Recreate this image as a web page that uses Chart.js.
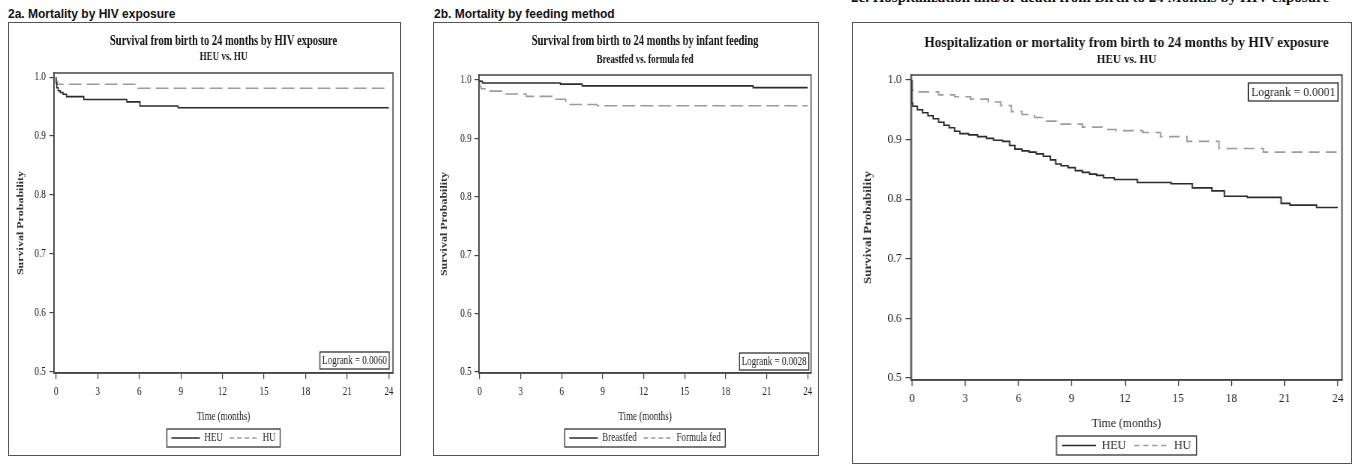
<!doctype html>
<html lang="en">
<head>
<meta charset="utf-8">
<title>Survival from birth to 24 months</title>
<script src="https://cdn.jsdelivr.net/npm/chart.js@4.4.1/dist/chart.umd.min.js"></script>
<style>
  body { margin: 0; background: #fff; width: 1359px; height: 470px; position: relative; overflow: hidden; }
  .Heading { position: absolute; font: bold 12px "Liberation Sans", Arial, sans-serif; color: #111; white-space: nowrap; }
  .HeadingSerif { position: absolute; font: bold 15px "Liberation Serif", "Times New Roman", serif; line-height: 15px; color: #111; white-space: nowrap; }
  .Frame { position: absolute; box-sizing: border-box; border: 1.5px solid #555; }
  canvas { position: absolute; transform-origin: 0 0; }
</style>
</head>
<body>
<div class="Heading" style="left:8px; top:7px">2a. Mortality by HIV exposure</div>
<div class="Heading" style="left:434px; top:7px">2b. Mortality by feeding method</div>
<div class="HeadingSerif" style="left:851px; top:-10px">2c. Hospitalization and/or death from Birth to 24 Months by HIV exposure</div>

<div class="Frame" style="left:8px; top:22px; width:393px; height:434px"></div>
<div class="Frame" style="left:433px; top:22px; width:386px; height:434px"></div>
<div class="Frame" style="left:852px; top:22px; width:500px; height:442px"></div>

<canvas id="chartA" width="521" height="432" style="left:9px; top:23px; transform:scaleX(0.75)"></canvas>
<canvas id="chartB" width="512" height="432" style="left:434px; top:23px; transform:scaleX(0.75)"></canvas>
<canvas id="chartC" width="553" height="440" style="left:853px; top:23px; transform:scaleX(0.9)"></canvas>

<script>
  // axis ticks
  const monthTicks = [0, 3, 6, 9, 12, 15, 18, 21, 24];
  const survTicks = [0.5, 0.6, 0.7, 0.8, 0.9, 1.0];

  // 2a - mortality by HIV exposure (value after each step)
  const hivHeuMonths = [0, 0.05, 0.15, 0.3, 0.5, 0.75, 2.0, 5.1, 6.05, 8.8, 21.0, 24];
  const hivHeuSurv   = [1.0, 0.990, 0.982, 0.977, 0.974, 0.971, 0.967, 0.962, 0.958, 0.951, 0.948, 0.948];
  const hivHuMonths  = [0, 0.1, 5.9, 22.4, 24];
  const hivHuSurv    = [1.0, 0.993, 0.988, 0.981, 0.981];

  // 2b - mortality by feeding method
  const bfMonths = [0, 0.2, 5.9, 7.5, 20.0, 22.8, 24];
  const bfSurv   = [1.0, 0.998, 0.995, 0.993, 0.990, 0.987, 0.987];
  const ffMonths = [0, 0.1, 0.5, 1.9, 3.4, 5.3, 6.3, 8.6, 21.0, 24];
  const ffSurv   = [1.0, 0.989, 0.985, 0.981, 0.976, 0.972, 0.967, 0.958, 0.956, 0.956];

  // 2c - hospitalization or mortality by HIV exposure
  const hospHeuMonths = [0, 0.05, 0.3, 0.6, 0.9, 1.2, 1.5, 1.8, 2.1, 2.4, 2.7, 3.2, 3.7, 4.2, 4.6, 5.1, 5.5, 5.8, 6.2, 6.6,
    7.0, 7.4, 7.8, 8.1, 8.4, 8.8, 9.2, 9.6, 10.0, 10.4, 10.8, 11.4, 12.7, 14.6, 15.8, 16.9, 17.6, 18.9, 20.8, 21.3, 22.8, 23.5, 24];
  const hospHeuSurv = [1.0, 0.961, 0.956, 0.950, 0.945, 0.940, 0.935, 0.929, 0.924, 0.920, 0.914, 0.910, 0.908, 0.905, 0.902, 0.899, 0.897, 0.890, 0.884, 0.881,
    0.879, 0.876, 0.872, 0.866, 0.859, 0.856, 0.853, 0.848, 0.845, 0.842, 0.840, 0.836, 0.833, 0.828, 0.826, 0.819, 0.814, 0.805, 0.803, 0.793, 0.790, 0.786, 0.786];
  const hospHuMonths = [0, 0.1, 1.5, 2.4, 3.3, 4.3, 5.0, 5.6, 6.2, 6.9, 7.5, 8.4, 9.6, 10.8, 11.5, 13.0, 14.0, 15.5, 17.3, 19.8, 22.9, 24];
  const hospHuSurv   = [1.0, 0.983, 0.980, 0.975, 0.972, 0.968, 0.963, 0.957, 0.947, 0.942, 0.937, 0.931, 0.926, 0.921, 0.917, 0.915, 0.912, 0.905, 0.897, 0.885, 0.879, 0.879];

  const SERIF = '"Liberation Serif", "Times New Roman", serif';

  function pts(xs, ys) {
    return xs.map((x, i) => ({ x: x, y: ys[i] }));
  }

  // box round the plot area
  const frameBox = {
    id: 'frameBox',
    afterDraw(chart) {
      const a = chart.chartArea, ctx = chart.ctx;
      ctx.save();
      ctx.strokeStyle = '#444';
      ctx.lineWidth = 1.5;
      ctx.strokeRect(a.left, a.top, a.right - a.left, a.bottom - a.top);
      ctx.restore();
    }
  };

  // box round the legend items
  const legendBox = {
    id: 'legendBox',
    afterDraw(chart) {
      const hb = chart.legend.legendHitBoxes;
      if (!hb || !hb.length) return;
      const left = Math.min(...hb.map(h => h.left)) - 6;
      const right = Math.max(...hb.map(h => h.left + h.width)) + 6;
      const top = hb[0].top - 3, h = hb[0].height + 6;
      const ctx = chart.ctx;
      ctx.save();
      ctx.strokeStyle = '#333';
      ctx.lineWidth = 1.3;
      ctx.strokeRect(left, top, right - left, h);
      ctx.restore();
    }
  };

  function logrankBox(text, size, where, dx, dy) {
    return {
      id: 'logrank',
      afterDraw(chart) {
        const a = chart.chartArea, ctx = chart.ctx;
        ctx.save();
        ctx.font = size + 'px ' + SERIF;
        const w = ctx.measureText(text).width + 6, h = size + 5;
        const x = a.right - dx - w;
        const y = where === 'top' ? a.top + dy : a.bottom - dy - h;
        ctx.fillStyle = '#fff';
        ctx.fillRect(x, y, w, h);
        ctx.strokeStyle = '#333';
        ctx.lineWidth = 1.3;
        ctx.strokeRect(x, y, w, h);
        ctx.fillStyle = '#222';
        ctx.textBaseline = 'middle';
        ctx.fillText(text, x + 3, y + h / 2 + 0.5);
        ctx.restore();
      }
    };
  }

  function kmChart(id, o) {
    return new Chart(document.getElementById(id), {
      type: 'line',
      data: {
        datasets: [
          { label: o.labels[0], data: pts(o.a[0], o.a[1]), borderColor: '#2b2b2b', borderWidth: 1.6,
            stepped: 'after', pointRadius: 0, pointStyle: 'line' },
          { label: o.labels[1], data: pts(o.b[0], o.b[1]), borderColor: '#9c9c9c', borderWidth: 1.6,
            borderDash: o.dash, stepped: 'after', pointRadius: 0, pointStyle: 'line' }
        ]
      },
      options: {
        responsive: false,
        animation: false,
        events: [],
        layout: { padding: o.pad },
        scales: {
          x: {
            type: 'linear', min: o.xMin, max: o.xMax,
            afterBuildTicks: s => { s.ticks = monthTicks.map(v => ({ value: v })); },
            afterFit: s => { s.height = o.xHeight; },
            ticks: { font: { family: SERIF, size: o.tick }, color: '#222', padding: o.xPad, maxRotation: 0 },
            grid: { drawOnChartArea: false, tickLength: 6, color: '#444', lineWidth: 1.2 },
            border: { color: '#444', width: 1.5 },
            title: { display: true, text: 'Time (months)', color: '#222', padding: 0,
                     font: { family: SERIF, size: o.axisTitle, lineHeight: 1 } }
          },
          y: {
            min: o.yMin, max: o.yMax,
            afterBuildTicks: s => { s.ticks = survTicks.map(v => ({ value: v })); },
            afterFit: s => { s.width = o.yWidth; },
            ticks: { font: { family: SERIF, size: o.tick }, color: '#222', padding: o.yPad,
                     callback: v => v.toFixed(1) },
            grid: { drawOnChartArea: false, tickLength: 6, color: '#444', lineWidth: 1.2 },
            border: { color: '#444', width: 1.5 },
            title: { display: true, text: 'Survival Probability', color: '#333', padding: { top: o.yTitlePad, bottom: 0 },
                     font: { family: SERIF, size: o.axisTitle, weight: 'bold' } }
          }
        },
        plugins: {
          title: { display: true, text: o.title, fullSize: false, color: '#111',
                   font: { family: SERIF, size: o.titleSize, weight: 'bold', lineHeight: 1.2 }, padding: o.titlePad },
          subtitle: { display: true, text: o.subtitle, fullSize: false, color: '#111',
                      font: { family: SERIF, size: o.subSize, weight: 'bold', lineHeight: 1.2 }, padding: o.subPad },
          legend: {
            position: 'bottom', fullSize: false,
            labels: {
              font: { family: SERIF, size: o.legendFont }, color: '#222',
              usePointStyle: true, pointStyleWidth: 38, padding: 9,
              generateLabels: chart => Chart.defaults.plugins.legend.labels.generateLabels(chart)
                .map((it, i) => Object.assign(it, { lineDash: i ? [6, 4] : [], lineWidth: 1.3, pointStyle: 'line' }))
            }
          },
          tooltip: { enabled: false }
        }
      },
      plugins: [frameBox, legendBox, logrankBox(o.logrank, o.logSize, o.logWhere, o.logDx, o.logDy)]
    });
  }

  kmChart('chartA', {
    labels: ['HEU', 'HU'],
    a: [hivHeuMonths, hivHeuSurv], b: [hivHuMonths, hivHuSurv], dash: [17, 7],
    title: 'Survival from birth to 24 months by HIV exposure', subtitle: 'HEU vs. HU',
    titleSize: 14, subSize: 12, titlePad: { top: 6, bottom: 0 }, subPad: { top: 0.4, bottom: 8.4 },
    pad: { top: 4, right: 9, bottom: 1, left: 0 },
    xMin: -0.15, xMax: 24.3, yMin: 0.498, yMax: 1.007,
    xHeight: 50, yWidth: 60, xPad: 6, yPad: 5, yTitlePad: 8.5,
    tick: 12, axisTitle: 12, legendFont: 12,
    logrank: 'Logrank = 0.0060', logSize: 12, logWhere: 'bottom', logDx: 5, logDy: 4
  });

  kmChart('chartB', {
    labels: ['Breastfed', 'Formula fed'],
    a: [bfMonths, bfSurv], b: [ffMonths, ffSurv], dash: [17, 7],
    title: 'Survival from birth to 24 months by infant feeding', subtitle: 'Breastfed vs. formula fed',
    titleSize: 14, subSize: 12, titlePad: { top: 6, bottom: 0 }, subPad: { top: 3, bottom: 7.8 },
    pad: { top: 4, right: 9.3, bottom: 1, left: 0 },
    xMin: -0.05, xMax: 24.24, yMin: 0.498, yMax: 1.0086,
    xHeight: 50, yWidth: 60, xPad: 6, yPad: 4, yTitlePad: 7,
    tick: 12, axisTitle: 12, legendFont: 12,
    logrank: 'Logrank = 0.0028', logSize: 12, logWhere: 'bottom', logDx: 3, logDy: 3
  });

  kmChart('chartC', {
    labels: ['HEU', 'HU'],
    a: [hospHeuMonths, hospHeuSurv], b: [hospHuMonths, hospHuSurv], dash: [12, 7],
    title: 'Hospitalization or mortality from birth to 24 months by HIV exposure', subtitle: 'HEU vs. HU',
    titleSize: 15, subSize: 12.5, titlePad: { top: 7, bottom: 0 }, subPad: { top: 0.5, bottom: 7.5 },
    pad: { top: 4, right: 9.7, bottom: 1, left: 0 },
    xMin: -0.056, xMax: 24.23, yMin: 0.4966, yMax: 1.0084,
    xHeight: 50, yWidth: 64.4, xPad: 5, yPad: 4.4, yTitlePad: 9,
    tick: 12.5, axisTitle: 13, legendFont: 13,
    logrank: 'Logrank = 0.0001', logSize: 13, logWhere: 'top', logDx: 4.3, logDy: 8
  });
</script>
</body>
</html>
